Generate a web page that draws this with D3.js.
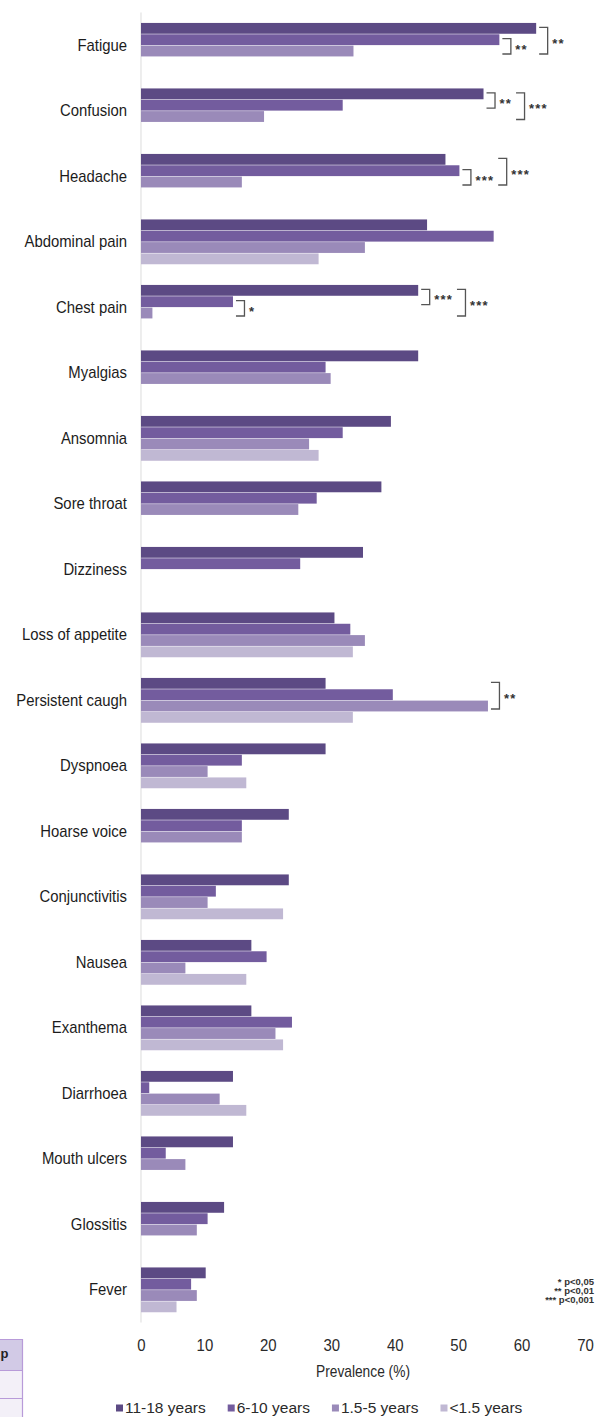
<!DOCTYPE html>
<html>
<head>
<meta charset="utf-8">
<script src="https://cdn.jsdelivr.net/npm/d3@7"></script>
<style>
  html, body { margin: 0; padding: 0; background: #fff; }
  svg { display: block; font-family: "Liberation Sans", Arial, Helvetica, sans-serif; }
</style>
</head>
<body>
<svg id="chart" width="608" height="1417"></svg>
<script>
// Symptom prevalence (%) by age group
const categories = ["Fatigue", "Confusion", "Headache", "Abdominal pain", "Chest pain", "Myalgias",
  "Ansomnia", "Sore throat", "Dizziness", "Loss of appetite", "Persistent caugh", "Dyspnoea",
  "Hoarse voice", "Conjunctivitis", "Nausea", "Exanthema", "Diarrhoea", "Mouth ulcers", "Glossitis", "Fever"];
const seriesNames = ["11-18 years", "6-10 years", "1.5-5 years", "<1.5 years"];
const age11to18  = [62.3, 54.0, 48.0, 45.1, 43.7, 43.7, 39.4, 37.9, 35.0, 30.5, 29.1, 29.1, 23.3, 23.3, 17.4, 17.4, 14.5, 14.5, 13.1, 10.2];
const age6to10   = [56.5, 31.8, 50.2, 55.6, 14.5, 29.1, 31.8, 27.7, 25.1, 33.0, 39.7, 15.9, 15.9, 11.8, 19.8, 23.8, 1.3, 3.9, 10.5, 7.9];
const age1p5to5  = [33.5, 19.4, 15.9, 35.3, 1.8, 29.9, 26.5, 24.8, null, 35.3, 54.7, 10.5, 15.9, 10.5, 7.0, 21.2, 12.4, 7.0, 8.8, 8.8];
const ageUnder1p5 = [null, null, null, 28.0, null, null, 28.0, null, null, 33.4, 33.4, 16.6, null, 22.4, 16.6, 22.4, 16.6, null, null, 5.6];
const xTicks = [0, 10, 20, 30, 40, 50, 60, 70];
const xTitle = "Prevalence (%)";

// Significant pairwise comparisons (series indices within a symptom group)
const significance = [
  { category: "Fatigue", from: 1, to: 2, level: 0, label: "**" },
  { category: "Fatigue", from: 0, to: 2, level: 1, label: "**" },
  { category: "Confusion", from: 0, to: 1, level: 0, label: "**" },
  { category: "Confusion", from: 0, to: 2, level: 1, label: "***" },
  { category: "Headache", from: 1, to: 2, level: 0, label: "***" },
  { category: "Headache", from: 0, to: 2, level: 1, label: "***" },
  { category: "Chest pain", from: 1, to: 2, level: 0, label: "*" },
  { category: "Chest pain", from: 0, to: 1, level: 0, label: "***" },
  { category: "Chest pain", from: 0, to: 2, level: 1, label: "***" },
  { category: "Persistent caugh", from: 0, to: 2, level: 0, label: "**" }
];
const pLegend = ["* p<0,05", "** p<0,01", "*** p<0,001"];

const seriesValues = [age11to18, age6to10, age1p5to5, ageUnder1p5];
const colors = ["#5c4a84", "#735c9e", "#9a8ab9", "#c0b8d3"];

const svg = d3.select("#chart");

const x = d3.scaleLinear().domain([0, 70]).range([141, 585]);
const y = d3.scaleBand().domain(categories).range([12.6, 1322.6]).paddingInner(0.308).paddingOuter(0.154);
const ySub = d3.scaleBand().domain(d3.range(seriesNames.length)).range([0, y.bandwidth()]);
const color = d3.scaleOrdinal().domain(d3.range(seriesNames.length)).range(colors);

// Table fragment at the lower-left edge
const tbl = svg.append("g");
tbl.append("rect").attr("x", -4).attr("y", 1339).attr("width", 26.7).attr("height", 31).attr("fill", "#d2cae6");
tbl.append("rect").attr("x", -4).attr("y", 1370).attr("width", 26.7).attr("height", 60).attr("fill", "#f3f0f8");
tbl.append("path").attr("d", "M-4,1339.5H22.5V1420M-4,1370.5H22.5M-4,1398.5H22.5")
  .attr("fill", "none").attr("stroke", "#b89bd9").attr("stroke-width", 1.2);
tbl.append("text").attr("x", 0.5).attr("y", 1358).attr("font-size", 13).attr("font-weight", "bold")
  .attr("fill", "#222").text("p");

// Zero line
svg.append("line").attr("x1", x(0)).attr("x2", x(0)).attr("y1", y.range()[0]).attr("y2", y.range()[1])
  .attr("stroke", "#e2e2e2").attr("stroke-width", 1.2);

// Bars
const rows = categories.map((c, i) => ({
  category: c,
  bars: seriesValues.map((vals, s) => ({ s, value: vals[i] })).filter(d => d.value != null)
}));
const groups = svg.append("g").selectAll("g").data(rows).join("g")
  .attr("transform", d => `translate(0,${y(d.category)})`);
groups.selectAll("rect").data(d => d.bars).join("rect")
  .attr("x", x(0))
  .attr("y", d => ySub(d.s) + 0.25)
  .attr("width", d => x(d.value) - x(0))
  .attr("height", ySub.bandwidth() - 0.5)
  .attr("fill", d => color(d.s));

// Category labels
svg.append("g").selectAll("text").data(categories).join("text")
  .attr("transform", d => `translate(127,${y(d) + y.bandwidth() / 2}) scale(0.93,1)`)
  .attr("dy", "0.35em")
  .attr("text-anchor", "end")
  .attr("font-size", 16)
  .attr("fill", "#1c1c1c")
  .text(d => d);

// X axis tick labels (no axis line)
const xAxis = svg.append("g").attr("transform", "translate(0,1339)")
  .call(d3.axisBottom(x).tickValues(xTicks).tickSize(0).tickPadding(0));
xAxis.select(".domain").remove();
xAxis.selectAll("text").attr("font-size", 17).attr("fill", "#2a2a2a")
  .attr("font-family", "\"Liberation Sans\", Arial, sans-serif").attr("dy", "0.71em")
  .attr("transform", "scale(0.88,1)");

svg.append("text").attr("transform", `translate(${x(35)},1377) scale(0.86,1)`).attr("text-anchor", "middle")
  .attr("font-size", 16).attr("fill", "#2a2a2a").text(xTitle);

// Significance brackets
const valueOf = (cat, s) => seriesValues[s][categories.indexOf(cat)] || 0;
const labelEnd = {};
const bracketG = svg.append("g");
[0, 1].forEach(level => {
  significance.filter(b => b.level === level).forEach(b => {
    const top = y(b.category) + ySub(b.from) + ySub.bandwidth() / 2 - 1;
    const bottom = y(b.category) + ySub(b.to) + ySub.bandwidth() / 2 + 3;
    let maxVal = 0;
    for (let s = b.from; s <= b.to; s++) maxVal = Math.max(maxVal, valueOf(b.category, s));
    let left = x(maxVal) + 3;
    if (level > 0 && labelEnd[b.category] != null) left = Math.max(left, labelEnd[b.category] + 4);
    const right = left + 8.5;
    bracketG.append("path")
      .attr("d", `M${left},${top}H${right}V${bottom}H${left}`)
      .attr("fill", "none").attr("stroke", "#555").attr("stroke-width", 1.3);
    const t = bracketG.append("text")
      .attr("x", right + 4.5)
      .attr("y", (top + bottom) / 2 + 7.2)
      .attr("font-size", 13).attr("font-weight", "bold").attr("letter-spacing", 1.2)
      .attr("fill", "#333").text(b.label);
    const end = right + 4.5 + t.node().getComputedTextLength();
    labelEnd[b.category] = Math.max(labelEnd[b.category] || 0, end);
  });
});

// p-value key
svg.append("g").selectAll("text").data(pLegend).join("text")
  .attr("x", 594)
  .attr("y", (d, i) => 1285 + i * 9)
  .attr("text-anchor", "end")
  .attr("font-size", 9.5).attr("font-weight", "bold").attr("fill", "#333")
  .text(d => d);

// Legend
const legendItems = svg.append("g").attr("transform", "translate(0,1408)");
let lx = 116;
seriesNames.forEach((name, i) => {
  const g = legendItems.append("g").attr("transform", `translate(${lx},0)`);
  g.append("rect").attr("x", 0).attr("y", -3.5).attr("width", 7).attr("height", 7).attr("fill", colors[i]);
  const t = g.append("text").attr("x", 9).attr("y", 0).attr("dy", "0.35em")
    .attr("font-size", 15.5).attr("fill", "#2a2a2a").text(name);
  lx += 9 + t.node().getComputedTextLength() + 22;
});
</script>
</body>
</html>
